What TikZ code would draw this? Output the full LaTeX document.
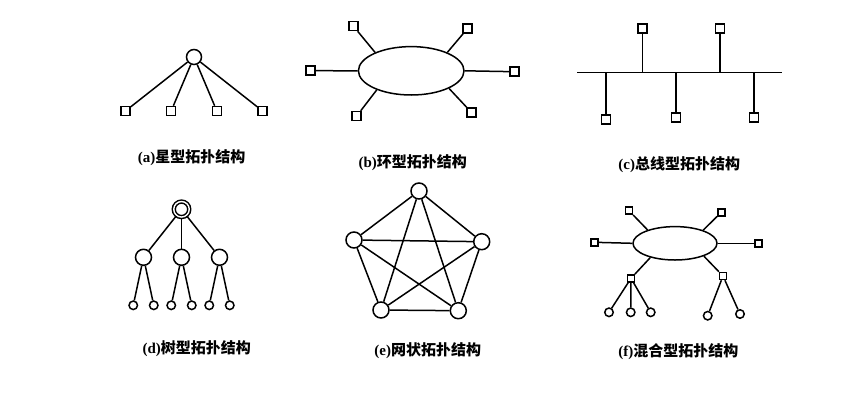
\documentclass[tikz,border=0pt]{standalone}
\usepackage{fontspec}
\setmainfont{Liberation Serif}
\newfontfamily\cjk{Noto Sans CJK SC}
\usetikzlibrary{shapes.geometric}
\begin{document}
\begin{tikzpicture}[x=1pt, y=1pt, line width=1.5pt]
\tikzstyle{host} = [draw, rectangle, minimum size=9pt, inner sep=0pt] % станция (квадрат)
\tikzstyle{smallhost} = [host, minimum size=7pt] % малая станция
\tikzstyle{hub} = [draw, circle, minimum size=16pt, inner sep=0pt] % узел (круг)
\tikzstyle{leaf} = [draw, circle, minimum size=8.5pt, inner sep=0pt] % лист
\tikzstyle{ringnet} = [draw, ellipse, inner sep=0pt] % кольцо
\tikzstyle{caption} = [font=\bfseries\fontsize{15}{15}\selectfont, inner sep=0pt] % подпись
\useasboundingbox (0,0) rectangle (858,-407);
% (a) звезда
\node[hub, minimum size=15pt] (a0) at (194,-57) {} [grow=down, level distance=54pt, sibling distance=45.7pt]
    child { node[host] (a1) {} }
    child { node[host] (a2) {} }
    child { node[host] (a3) {} }
    child { node[host] (a4) {} };
\node[caption] (cap-a) at (191.7,-158) {(a)\cjk 星型拓扑结构};
% (b) кольцо
\node[ringnet, minimum width=105.6pt, minimum height=48.4pt] (ring) at (411.2,-70.8) {};
\node[host] (b1) at (353.3,-26) {};
\node[host] (b2) at (467.7,-28.3) {};
\node[host] (b3) at (310.7,-70.7) {};
\node[host] (b4) at (514.3,-71.7) {};
\node[host] (b5) at (356.7,-116) {};
\node[host] (b6) at (471.7,-112.7) {};
\draw (b1) -- (ring.153);
\draw (b2) -- (ring.27);
\draw (b3) -- (ring.west);
\draw (b4) -- (ring.east);
\draw (b5) -- (ring.209);
\draw (b6) -- (ring.335);
\node[caption] (cap-b) at (412.7,-163) {(b)\cjk 环型拓扑结构};
% (c) шина
\coordinate (bus-l) at (577.3,-72.3);
\coordinate (bus-r) at (782.3,-72.3);
\draw (bus-l) -- (bus-r);
\node[host] (c1) at (642.3,-28.3) {};
\node[host] (c2) at (720,-28.3) {};
\node[host] (c3) at (606,-119.3) {};
\node[host] (c4) at (676,-117.7) {};
\node[host] (c5) at (754,-117.7) {};
\foreach \n in {c1,c2,c3,c4,c5}
    \draw (\n) -- (\n |- bus-l);
\node[caption] (cap-c) at (679.3,-165) {(c)\cjk 总线型拓扑结构};
% (d) дерево
\tikzstyle{level 1}=[sibling distance=38pt] % расстояние между соседними узлами
\tikzstyle{level 2}=[sibling distance=20.5pt]
\node[hub, minimum size=15.5pt, double, double distance=1.4pt] (d0) at (181.5,-209.3) {} [grow=down, level distance=48pt]
    child { node[hub] (d1) {}
        child { node[leaf] (d11) {} }
        child { node[leaf] (d12) {} } }
    child { node[hub] (d2) {}
        child { node[leaf] (d21) {} }
        child { node[leaf] (d22) {} } }
    child { node[hub] (d3) {}
        child { node[leaf] (d31) {} }
        child { node[leaf] (d32) {} } };
\node[caption] (cap-d) at (196.7,-348.3) {(d)\cjk 树型拓扑结构};
% (e) сеть
\node[hub] (e1) at (419,-191) {};
\node[hub] (e2) at (354,-240) {};
\node[hub] (e3) at (481.7,-241.7) {};
\node[hub] (e4) at (381,-310) {};
\node[hub] (e5) at (458.3,-310.7) {};
\foreach \u/\v in {e1/e2,e1/e3,e1/e4,e1/e5,e2/e3,e2/e4,e2/e5,e3/e4,e3/e5,e4/e5}
    \draw (\u) -- (\v);
\node[caption] (cap-e) at (427.7,-351) {(e)\cjk 网状拓扑结构};
% (f) смешанная
\node[ringnet, minimum width=84pt, minimum height=33.4pt] (mix) at (675,-243.3) {};
\node[smallhost] (f1) at (629,-210.7) {};
\node[smallhost] (f2) at (721.3,-212.3) {};
\node[smallhost] (f3) at (594.7,-242.3) {};
\node[smallhost] (f4) at (758.7,-243.3) {};
\node[smallhost] (f5) at (631,-278.3) {};
\node[smallhost] (f6) at (723,-276) {};
\draw (f1) -- (mix.154);
\draw (f2) -- (mix.25);
\draw (f3) -- (mix.west);
\draw (f4) -- (mix.east);
\draw (f5) -- (mix.210);
\draw (f6) -- (mix.336);
\node[leaf] (f51) at (609,-312.3) {};
\node[leaf] (f52) at (630.7,-312.3) {};
\node[leaf] (f53) at (650.7,-312.3) {};
\node[leaf] (f61) at (707.7,-315.7) {};
\node[leaf] (f62) at (740,-314) {};
\foreach \n in {f51,f52,f53}
    \draw (f5) -- (\n);
\foreach \n in {f61,f62}
    \draw (f6) -- (\n);
\node[caption] (cap-f) at (678.3,-351.7) {(f)\cjk 混合型拓扑结构};
\end{tikzpicture}
\end{document}
